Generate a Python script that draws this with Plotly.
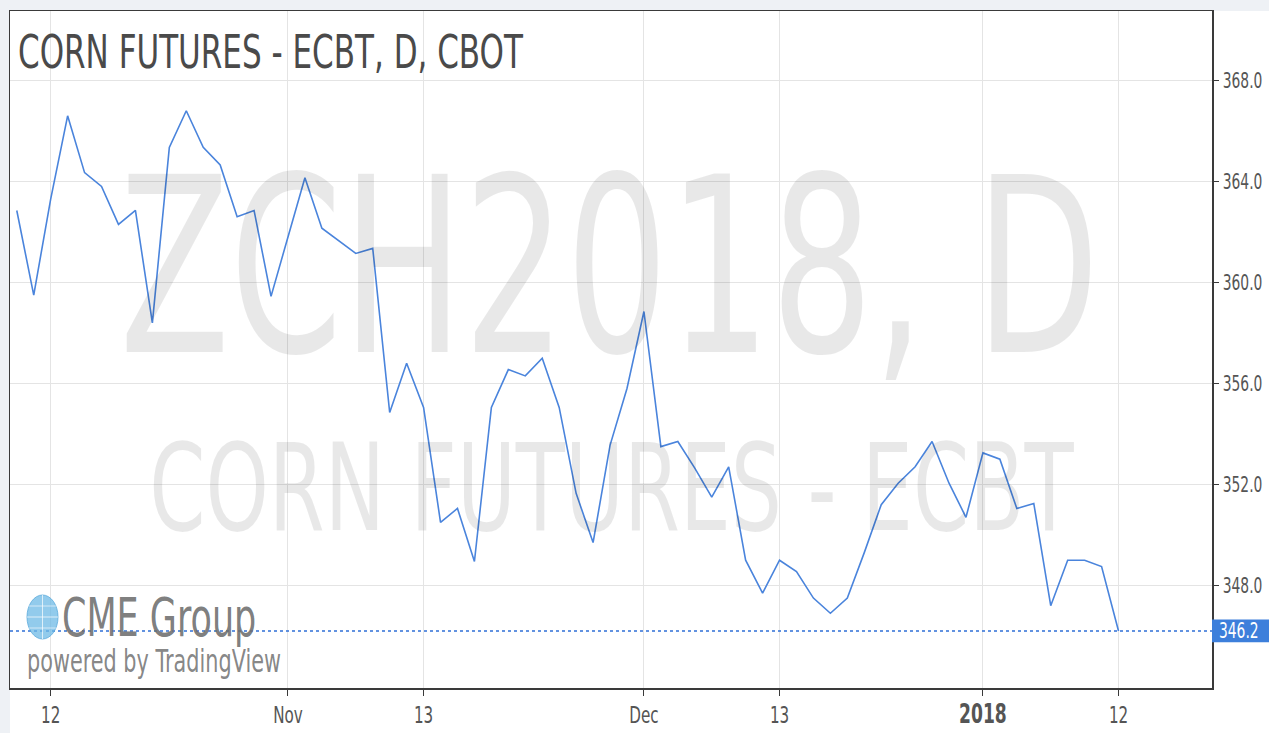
import plotly.graph_objects as go

# ---- data -------------------------------------------------------------
dates = [
    "2017-10-10", "2017-10-11", "2017-10-12", "2017-10-13", "2017-10-16", "2017-10-17",
    "2017-10-18", "2017-10-19", "2017-10-20", "2017-10-23", "2017-10-24", "2017-10-25",
    "2017-10-26", "2017-10-27", "2017-10-30", "2017-10-31",
    "2017-11-01", "2017-11-02", "2017-11-03", "2017-11-06", "2017-11-07", "2017-11-08",
    "2017-11-09", "2017-11-10", "2017-11-13", "2017-11-14", "2017-11-15", "2017-11-16",
    "2017-11-17", "2017-11-20", "2017-11-21", "2017-11-22", "2017-11-24", "2017-11-27",
    "2017-11-28", "2017-11-29", "2017-11-30",
    "2017-12-01", "2017-12-04", "2017-12-05", "2017-12-06", "2017-12-07", "2017-12-08",
    "2017-12-11", "2017-12-12", "2017-12-13", "2017-12-14", "2017-12-15", "2017-12-18",
    "2017-12-19", "2017-12-20", "2017-12-21", "2017-12-22", "2017-12-26", "2017-12-27",
    "2017-12-28", "2017-12-29",
    "2018-01-02", "2018-01-03", "2018-01-04", "2018-01-05", "2018-01-08", "2018-01-09",
    "2018-01-10", "2018-01-11", "2018-01-12",
]

close = [
    362.85, 359.50, 363.30, 366.60, 364.35, 363.80, 362.30, 362.85, 358.40, 365.35,
    366.80, 365.35, 364.65, 362.60, 362.85, 359.45,
    361.80, 364.15, 362.15, 361.65, 361.15, 361.35, 354.85, 356.80, 355.05, 350.50,
    351.05, 348.95, 355.05, 356.55, 356.30, 357.00, 355.05, 351.65, 349.70, 353.55,
    355.80,
    358.85, 353.50, 353.70, 352.65, 351.50, 352.70, 349.00, 347.70, 349.00, 348.55,
    347.50, 346.90, 347.50, 349.30, 351.20, 352.05, 352.70, 353.70, 352.05, 350.70,
    353.25, 353.00, 351.05, 351.25, 347.20, 349.00, 349.00, 348.75, 346.20,
]

x_tick_dates = ["2017-10-12", "2017-11-01", "2017-11-13", "2017-12-01",
                "2017-12-13", "2018-01-02", "2018-01-12"]
x_tick_labels = ["12", "Nov", "13", "Dec", "13",
                 "<b><span style='font-size:26px'>2018</span></b>", "12"]
y_tick_values = [348, 352, 356, 360, 364, 368]

title_text = "CORN FUTURES - ECBT, D, CBOT"
watermark_main = "ZCH2018, D"
watermark_sub = "CORN FUTURES - ECBT"

# ---- geometry (screen pixels; body margin removed in post_script) -----
W, H = 1269, 733
ML, MR, MT, MB = 10, 57, 11, 45
PW, PH = W - ML - MR, H - MT - MB

FONT = "DejaVu Sans, Verdana, sans-serif"
LINE_BLUE = "#4a84dc"
LABEL_BLUE = "#3d7fdb"
FRAME = "#3a3a3a"
GRID = "#e4e4e4"
STRIP = "#eef1f5"


def px(xs):
    return (xs - ML) / PW


def py(ys):
    return (H - MB - ys) / PH


fig = go.Figure()
fig.add_trace(go.Scatter(
    x=dates, y=close, mode="lines",
    line=dict(color=LINE_BLUE, width=1.6),
    hoverinfo="skip", showlegend=False,
))

last = close[-1]

shapes = [
    dict(type="rect", xref="paper", yref="paper",
         x0=px(0), x1=px(ML), y0=py(H), y1=py(0),
         fillcolor=STRIP, line=dict(width=0), layer="below"),
    dict(type="rect", xref="paper", yref="paper",
         x0=px(0), x1=px(W), y0=py(MT), y1=py(0),
         fillcolor=STRIP, line=dict(width=0), layer="below"),
    dict(type="line", xref="paper", yref="y", x0=0, x1=1, y0=last, y1=last,
         line=dict(color="#2f6fd6", width=1.6, dash="dot")),
    # last-price label box
    dict(type="rect", xref="paper", yref="y",
         x0=1, x1=px(W), y0=last - 0.45, y1=last + 0.45,
         fillcolor=LABEL_BLUE, line=dict(width=0)),
    # CME globe
    dict(type="circle", xref="paper", yref="paper",
         x0=px(27), x1=px(58), y0=py(639), y1=py(595),
         fillcolor="rgba(110,185,230,0.75)", line=dict(color="rgba(90,170,220,0.8)", width=1)),
    dict(type="line", xref="paper", yref="paper",
         x0=px(42.5), x1=px(42.5), y0=py(639), y1=py(595),
         line=dict(color="rgba(255,255,255,0.7)", width=1)),
    dict(type="line", xref="paper", yref="paper",
         x0=px(27), x1=px(58), y0=py(617), y1=py(617),
         line=dict(color="rgba(255,255,255,0.7)", width=1)),
    dict(type="line", xref="paper", yref="paper",
         x0=px(29), x1=px(56), y0=py(606), y1=py(606),
         line=dict(color="rgba(255,255,255,0.6)", width=1)),
    dict(type="line", xref="paper", yref="paper",
         x0=px(29), x1=px(56), y0=py(628), y1=py(628),
         line=dict(color="rgba(255,255,255,0.6)", width=1)),
]

annotations = [
    dict(text=watermark_main, xref="paper", yref="paper", x=px(609), y=py(268),
         xanchor="center", yanchor="middle", showarrow=False, align="center",
         font=dict(family=FONT, size=244, color="rgba(0,0,0,0.09)")),
    dict(text=watermark_sub, xref="paper", yref="paper", x=px(611), y=py(488),
         xanchor="center", yanchor="middle", showarrow=False, align="center",
         font=dict(family=FONT, size=122, color="rgba(0,0,0,0.09)")),
    dict(text=title_text, xref="paper", yref="paper", x=px(16), y=py(51),
         xanchor="left", yanchor="middle", showarrow=False, align="left",
         font=dict(family=FONT, size=47, color="#4a4a4a")),
    dict(text="CME Group", xref="paper", yref="paper", x=px(60), y=py(617),
         xanchor="left", yanchor="middle", showarrow=False, align="left",
         font=dict(family=FONT, size=53, color="rgba(110,110,110,0.9)")),
    dict(text="powered by TradingView", xref="paper", yref="paper", x=px(25), y=py(661),
         xanchor="left", yanchor="middle", showarrow=False, align="left",
         font=dict(family=FONT, size=31.5, color="rgba(120,120,120,0.9)")),
    dict(text=f"{last:.1f}", xref="paper", yref="y", x=1, y=last,
         xanchor="left", yanchor="middle", showarrow=False, align="left",
         xshift=5,
         font=dict(family=FONT, size=21, color="white")),
]

fig.update_layout(
    width=W, height=H,
    margin=dict(l=ML, r=MR, t=MT, b=MB, autoexpand=False),
    paper_bgcolor="white", plot_bgcolor="white",
    showlegend=False,
    shapes=shapes, annotations=annotations,
    xaxis=dict(
        type="category", categoryorder="array", categoryarray=dates,
        range=[-0.4, -0.4 + PW / 16.95],
        tickmode="array", tickvals=x_tick_dates, ticktext=x_tick_labels,
        showgrid=True, gridcolor=GRID, gridwidth=1,
        showline=True, linecolor=FRAME, linewidth=1.5, mirror=True,
        ticks="outside", ticklen=6, tickcolor=FRAME, tickwidth=1,
        tickfont=dict(family=FONT, size=23, color="#555555"),
        zeroline=False, fixedrange=True, automargin=False,
    ),
    yaxis=dict(
        side="right", range=[343.94, 370.75],
        tickmode="array", tickvals=y_tick_values, tickformat=".1f",
        showgrid=True, gridcolor=GRID, gridwidth=1,
        showline=True, linecolor=FRAME, linewidth=1.5, mirror=True,
        ticks="outside", ticklen=5, tickcolor=FRAME, tickwidth=1,
        tickfont=dict(family=FONT, size=21, color="#555555"),
        zeroline=False, fixedrange=True, automargin=False,
    ),
)

# Page reset (no body margin / scrollbars) and horizontal condensing of the
# real SVG text, as the reference glyphs are narrow.
post_script = """
(function(){
  var gd = document.getElementById('{plot_id}');
  document.documentElement.style.margin = '0';
  document.documentElement.style.overflow = 'hidden';
  document.body.style.margin = '0';
  document.body.style.overflow = 'hidden';
  document.body.style.background = '#ffffff';
  var S = 0.66;
  function squish(){
    var texts = gd.querySelectorAll('svg text');
    texts.forEach(function(t){
      var cur = t.getAttribute('transform') || '';
      if (cur.indexOf('scale(' + S + ',1)') !== -1) return;
      var bb;
      try { bb = t.getBBox(); } catch (e) { return; }
      if (!bb || bb.width === 0) return;
      var anchor = t.getAttribute('text-anchor') ||
                   window.getComputedStyle(t).textAnchor || 'start';
      var cx = bb.x;
      if (anchor === 'middle') cx = bb.x + bb.width / 2;
      else if (anchor === 'end') cx = bb.x + bb.width;
      t.setAttribute('transform', (cur + ' translate(' + cx + ',0) scale(' + S +
                     ',1) translate(' + (-cx) + ',0)').trim());
    });
  }
  squish();
  if (gd.on) gd.on('plotly_afterplot', squish);
})();
"""

fig.write_html("out.html", post_script=post_script,
               config={"displayModeBar": False, "staticPlot": True})
